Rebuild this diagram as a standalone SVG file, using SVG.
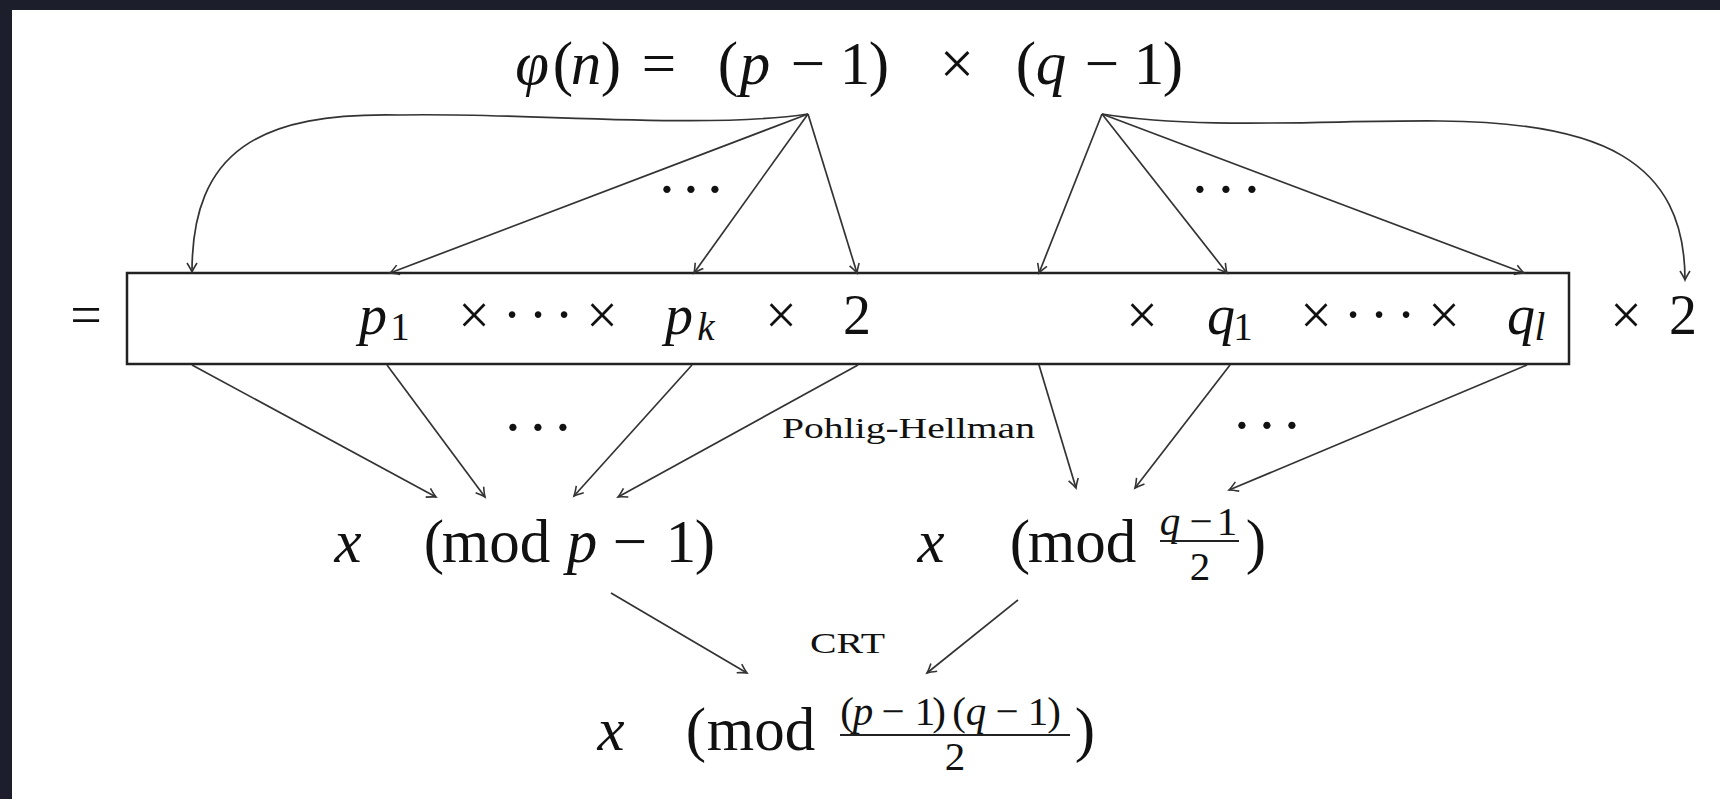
<svg xmlns="http://www.w3.org/2000/svg" width="1720" height="799" viewBox="0 0 1720 799">
<style>
  text { font-family: "Liberation Serif", "DejaVu Serif", serif; fill: #111; }
  .m { font-size: 61px; text-anchor: middle; }
  .b { font-size: 56px; text-anchor: middle; }
  .s { font-size: 39px; text-anchor: middle; }
  .f { font-size: 41px; text-anchor: middle; }
  .i { font-style: italic; }
  .lbl { font-size: 29px; }
  .edge { fill: none; stroke: #333; stroke-width: 1.7; marker-end: url(#arr); }
  .bar { stroke: #222; stroke-width: 2; }
</style>
<defs>
  <marker id="arr" viewBox="-11 -7 13 14" markerWidth="13" markerHeight="14" refX="0" refY="0" orient="auto" markerUnits="userSpaceOnUse" overflow="visible">
    <path d="M-9,-5 Q-3,-1.2 0,0 Q-3,1.2 -9,5" fill="none" stroke="#333" stroke-width="1.6"/>
  </marker>
</defs>
<rect x="0" y="0" width="1720" height="799" fill="#1c1f2b"/>
<rect x="12" y="10" width="1708" height="789" fill="#ffffff"/>

<g id="phi">
  <text class="m i" x="532" y="84">φ</text>
  <text class="m" x="563" y="84">(</text>
  <text class="m i" x="586" y="84">n</text>
  <text class="m" x="611" y="84">)</text>
  <text class="m" x="659" y="84">=</text>
  <text class="m" x="728" y="84">(</text>
  <text class="m i" x="755" y="84">p</text>
  <text class="m" x="808" y="84">−</text>
  <text class="m" x="855" y="84">1</text>
  <text class="m" x="879" y="84">)</text>
  <text class="m" x="957" y="84">×</text>
  <text class="m" x="1026" y="84">(</text>
  <text class="m i" x="1051" y="84">q</text>
  <text class="m" x="1102" y="84">−</text>
  <text class="m" x="1149" y="84">1</text>
  <text class="m" x="1173" y="84">)</text>
</g>

<g id="dots-top">
  <text class="m" x="667 691 715" y="210">···</text>
  <text class="m" x="1200 1226 1252" y="210">···</text>
</g>

<g id="factors">
  <text class="b" x="86" y="334">=</text>
  <rect x="127" y="273" width="1442" height="91" fill="none" stroke="#222" stroke-width="2.5"/>
  <text class="b i" x="373" y="334">p</text>
  <text class="s" x="400" y="340">1</text>
  <text class="b" x="474" y="334">×</text>
  <text class="b" x="512 538 564" y="334">···</text>
  <text class="b" x="602" y="334">×</text>
  <text class="b i" x="679" y="334">p</text>
  <text class="s i" x="706" y="340">k</text>
  <text class="b" x="781" y="334">×</text>
  <text class="b" x="857" y="334">2</text>
  <text class="b" x="1142" y="334">×</text>
  <text class="b i" x="1221" y="334">q</text>
  <text class="s" x="1243" y="340">1</text>
  <text class="b" x="1316" y="334">×</text>
  <text class="b" x="1353 1379 1406" y="334">···</text>
  <text class="b" x="1444" y="334">×</text>
  <text class="b i" x="1521" y="334">q</text>
  <text class="s i" x="1540" y="340">l</text>
  <text class="b" x="1626" y="334">×</text>
  <text class="b" x="1683" y="334">2</text>
</g>

<g id="dots-mid">
  <text class="m" x="513 538 563" y="448">···</text>
  <text class="m" x="1242 1267 1292" y="446">···</text>
</g>

<g id="mod-p">
  <text class="m i" x="348" y="562">x</text>
  <text class="m" x="434" y="562">(</text>
  <text class="m" x="496" y="562">mod</text>
  <text class="m i" x="582" y="562">p</text>
  <text class="m" x="630" y="562">−</text>
  <text class="m" x="681" y="562">1</text>
  <text class="m" x="705" y="562">)</text>
</g>

<g id="mod-q">
  <text class="m i" x="931" y="562">x</text>
  <text class="m" x="1020" y="562">(</text>
  <text class="m" x="1082" y="562">mod</text>
  <text class="f i" x="1170" y="535">q</text>
  <text class="f" x="1201" y="535">−</text>
  <text class="f" x="1227" y="535">1</text>
  <line class="bar" x1="1160" y1="541" x2="1239" y2="541"/>
  <text class="f" x="1200" y="580">2</text>
  <text class="m" x="1256" y="562">)</text>
</g>

<g id="mod-pq">
  <text class="m i" x="611" y="750">x</text>
  <text class="m" x="696" y="750">(</text>
  <text class="m" x="761" y="750">mod</text>
  <text class="f" x="847" y="725">(</text>
  <text class="f i" x="863" y="725">p</text>
  <text class="f" x="893" y="725">−</text>
  <text class="f" x="925" y="725">1</text>
  <text class="f" x="939" y="725">)</text>
  <text class="f" x="959" y="725">(</text>
  <text class="f i" x="976" y="725">q</text>
  <text class="f" x="1007" y="725">−</text>
  <text class="f" x="1038" y="725">1</text>
  <text class="f" x="1054" y="725">)</text>
  <line class="bar" x1="840" y1="735" x2="1070" y2="735"/>
  <text class="f" x="955" y="770">2</text>
  <text class="m" x="1085" y="750">)</text>
</g>

<g id="labels">
  <text class="lbl" x="782" y="438" textLength="253" lengthAdjust="spacingAndGlyphs">Pohlig-Hellman</text>
  <text class="lbl" x="810" y="653" textLength="75" lengthAdjust="spacingAndGlyphs">CRT</text>
</g>

<g id="connectors">
  <path class="edge" d="M808,114 C700,130 520,112 400,115 C260,112 192,150 192,272"/>
  <path class="edge" d="M808,114 L390,273"/>
  <path class="edge" d="M808,114 L694,273"/>
  <path class="edge" d="M808,114 L857,273"/>
  <path class="edge" d="M1102,114 L1039,273"/>
  <path class="edge" d="M1102,114 L1227,273"/>
  <path class="edge" d="M1102,114 L1524,273"/>
  <path class="edge" d="M1102,114 C1200,130 1330,120 1440,121 C1600,122 1685,160 1685,280"/>
  <path class="edge" d="M192,365 L436,497"/>
  <path class="edge" d="M387,365 L485,497"/>
  <path class="edge" d="M692,365 L574,496"/>
  <path class="edge" d="M858,365 L618,497"/>
  <path class="edge" d="M1039,365 L1076,488"/>
  <path class="edge" d="M1230,365 L1135,488"/>
  <path class="edge" d="M1527,365 L1229,490"/>
  <path class="edge" d="M611,593 L747,673"/>
  <path class="edge" d="M1018,600 L927,673"/>
</g>
</svg>
